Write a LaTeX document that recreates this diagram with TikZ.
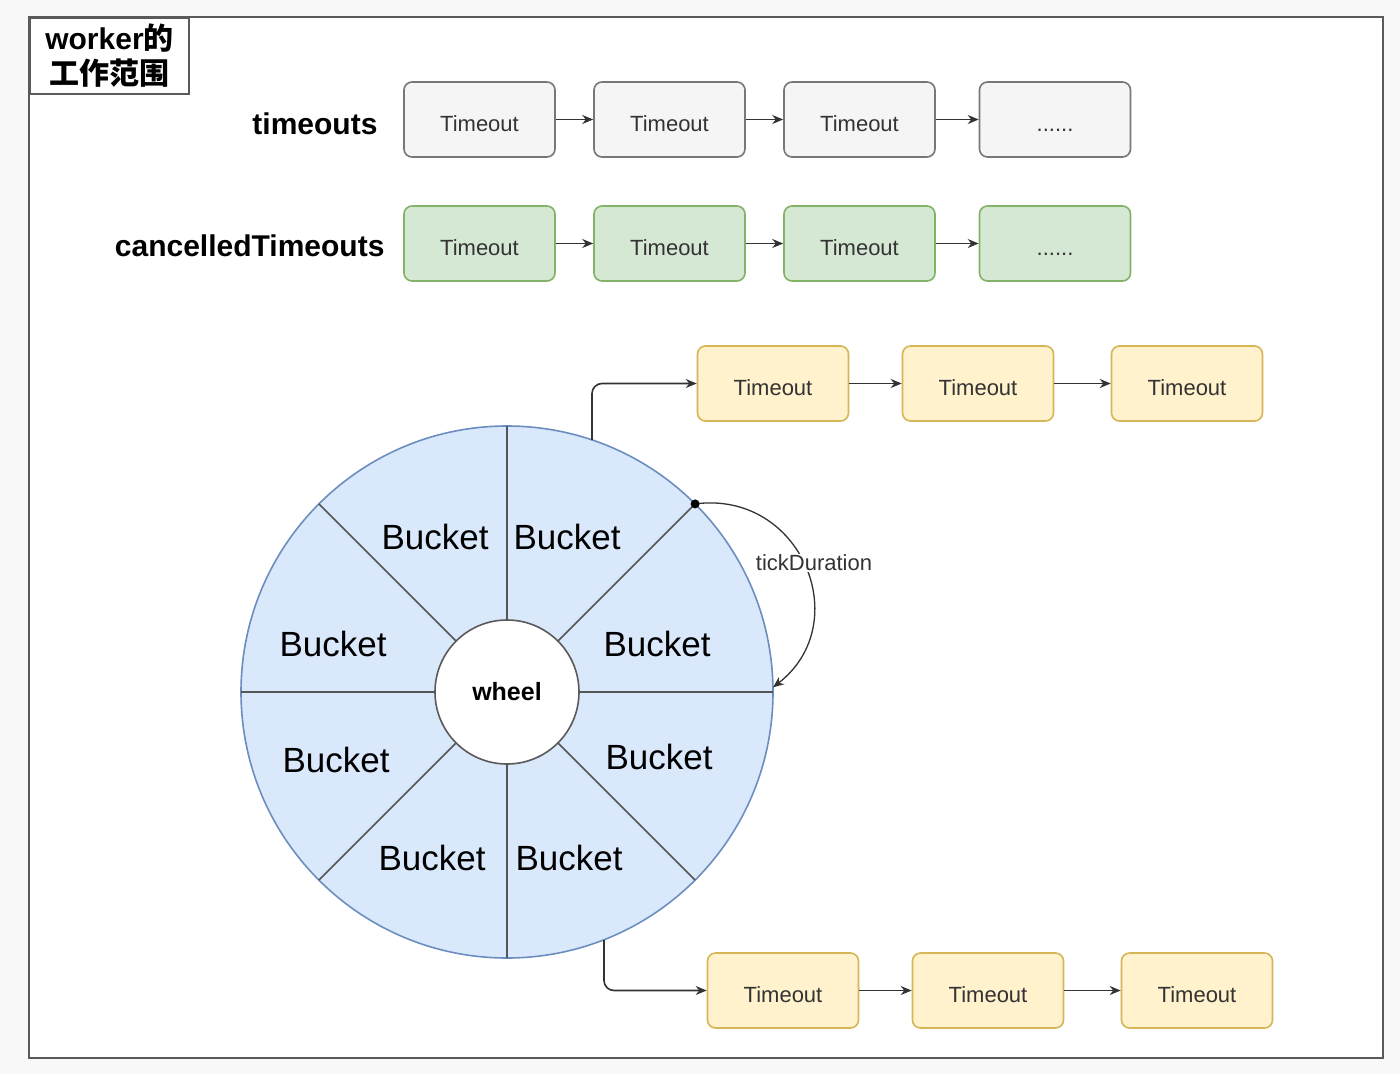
\documentclass[tikz,border=0pt]{standalone}
\usepackage{fontspec}
\setmainfont{Liberation Sans}
\newfontfamily\cjkfont{Noto Sans CJK SC}
\usetikzlibrary{positioning,arrows.meta,calc}

\definecolor{pagegray}{HTML}{F8F8F8}
\definecolor{framegray}{HTML}{5A5A5A}
\definecolor{textgray}{HTML}{333333}
\definecolor{linkgray}{HTML}{333333}
\definecolor{greyfill}{HTML}{F5F5F5}
\definecolor{greyline}{HTML}{777777}
\definecolor{greenfill}{HTML}{D5E8D4}
\definecolor{greenline}{HTML}{82B366}
\definecolor{yellowfill}{HTML}{FFF2CC}
\definecolor{yellowline}{HTML}{D6B656}
\definecolor{bluefill}{HTML}{DAE8FC}
\definecolor{blueline}{HTML}{6C8EBF}
\definecolor{spokegray}{HTML}{555555}
\newcommand{\moredots}{......}

\begin{document}
\begin{tikzpicture}[x=1pt,y=-1pt,
  tbox/.style={draw, rounded corners=8pt, line width=1.6pt, minimum width=151pt,
    minimum height=75pt, inner sep=0pt, text height=24pt, text depth=0pt,
    text=textgray, font=\fontsize{22}{26}\selectfont},
  greybox/.style={tbox, fill=greyfill, draw=greyline},
  greenbox/.style={tbox, fill=greenfill, draw=greenline},
  yellowbox/.style={tbox, fill=yellowfill, draw=yellowline},
  link/.style={-{Stealth[length=11pt,width=9pt]}, line width=1.6pt, draw=linkgray},
  rowlabel/.style={anchor=east, font=\bfseries\fontsize{30}{34}\selectfont},
  bucket/.style={font=\fontsize{35}{40}\selectfont},
  spoke/.style={draw=spokegray, line width=1.6pt}]
  % page and frame
  \fill[pagegray] (0,0) rectangle (1400,1074);
  \draw[framegray, line width=2pt, fill=white] (29,17) rectangle (1383,1058);
  \node[draw=framegray, line width=2pt, anchor=north west, minimum width=159pt,
    minimum height=76pt, align=center, inner sep=2pt,
    font=\bfseries\fontsize{30}{35}\selectfont] (title) at (29,17)
    {worker{\cjkfont 的}\\{\cjkfont 工作范围}};
  % the two lists
  \node[rowlabel] (timeoutsLabel) at (381,124) {timeouts};
  \node[rowlabel] (cancelledLabel) at (388,246) {cancelledTimeouts};
  \foreach \n/\x/\t in {1/479.5/Timeout,2/669.5/Timeout,3/859.5/Timeout,4/1055/\moredots} {
    \node[greybox] (t\n) at (\x,119.5) {\t};
    \node[greenbox] (c\n) at (\x,243.5) {\t};
  }
  \foreach \a/\b in {1/2,2/3,3/4} {
    \draw[link] (t\a) -- (t\b);
    \draw[link] (c\a) -- (c\b);
  }
  % wheel with eight buckets
  \coordinate (hub) at (507,692);
  \draw[blueline, fill=bluefill, line width=1.6pt] (hub) circle[radius=266];
  \foreach \ang in {0,45,...,315}
    \draw[spoke] ($(hub)+(\ang:72)$) -- ($(hub)+(\ang:266)$);
  \node[circle, draw=framegray, fill=white, line width=1.6pt, minimum size=144pt,
    font=\bfseries\fontsize{25}{30}\selectfont] (wheel) at (hub) {wheel};
  \foreach \n/\x/\y in {1/435/537,2/567/537,3/333/644,4/657/644,
                        5/336/760,6/659/757,7/432/858,8/569/858}
    \node[bucket] (b\n) at (\x,\y) {Bucket};
  % bucket lists
  \foreach \n/\x in {1/773,2/978,3/1187}
    \node[yellowbox] (u\n) at (\x,383.5) {Timeout};
  \foreach \n/\x in {1/783,2/988,3/1197}
    \node[yellowbox] (l\n) at (\x,990.5) {Timeout};
  \foreach \a/\b in {1/2,2/3} {
    \draw[link] (u\a) -- (u\b);
    \draw[link] (l\a) -- (l\b);
  }
  \coordinate (topOut) at (592,440);
  \coordinate (botOut) at (604,940);
  \draw[link, rounded corners=10pt] (topOut) |- (u1);
  \draw[link, rounded corners=10pt] (botOut) |- (l1);
  % tick duration
  \coordinate (tickStart) at ($(hub)+(-45:266)$);
  \coordinate (tickEnd) at ($(hub)+(-1:266)$);
  \draw[link, line width=1.3pt] (tickStart) .. controls (801,490) and (856,623) .. (tickEnd);
  \fill[black] (tickStart) circle[radius=4.5];
  \node[fill=white, inner sep=1pt, text=textgray, font=\fontsize{22}{26}\selectfont]
    (tickLabel) at (814,563) {tickDuration};
\end{tikzpicture}
\end{document}
